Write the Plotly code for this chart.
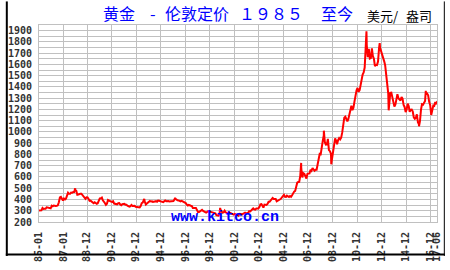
import pandas as pd
import plotly.graph_objects as go

# Monthly London gold price (USD/oz), Jan 1985 .. Jun 2017
price_1985 = [303, 299, 304, 325, 316, 317, 317, 330, 324, 326, 325, 322]
price_1986 = [345, 339, 346, 340, 342, 343, 348, 376, 418, 423, 398, 391]
price_1987 = [408, 401, 408, 438, 460, 450, 450, 461, 460, 466, 466, 487]
price_1988 = [477, 442, 444, 452, 451, 451, 437, 431, 413, 406, 420, 419]
price_1989 = [404, 388, 390, 384, 371, 367, 375, 365, 362, 367, 392, 409]
price_1990 = [410, 417, 393, 374, 369, 352, 362, 395, 389, 381, 381, 378]
price_1991 = [384, 364, 363, 358, 357, 367, 368, 356, 349, 358, 360, 361]
price_1992 = [354, 354, 345, 338, 337, 341, 352, 343, 345, 344, 335, 334]
price_1993 = [329, 330, 330, 342, 367, 372, 392, 379, 355, 364, 373, 383]
price_1994 = [387, 382, 384, 378, 381, 385, 385, 380, 391, 389, 384, 379]
price_1995 = [379, 377, 382, 391, 385, 387, 386, 383, 383, 383, 386, 387]
price_1996 = [400, 405, 396, 393, 392, 385, 383, 387, 383, 381, 378, 369]
price_1997 = [355, 347, 352, 344, 344, 341, 324, 324, 323, 325, 306, 289]
price_1998 = [289, 297, 296, 308, 299, 292, 293, 284, 289, 296, 294, 291]
price_1999 = [287, 288, 286, 282, 277, 262, 256, 257, 265, 311, 293, 283]
price_2000 = [285, 300, 286, 280, 275, 286, 282, 275, 274, 270, 266, 272]
price_2001 = [266, 262, 263, 261, 272, 270, 268, 273, 283, 283, 276, 276]
price_2002 = [282, 296, 294, 302, 314, 321, 313, 310, 319, 317, 319, 333]
price_2003 = [357, 359, 340, 328, 355, 356, 351, 360, 379, 379, 389, 407]
price_2004 = [414, 405, 406, 404, 384, 392, 398, 400, 406, 420, 439, 442]
price_2005 = [424, 423, 434, 429, 422, 431, 424, 438, 456, 470, 476, 510]
price_2006 = [549, 555, 557, 610, 676, 596, 634, 627, 599, 586, 628, 629]
price_2007 = [631, 665, 655, 679, 667, 655, 665, 665, 713, 754, 806, 803]
price_2008 = [889, 922, 968, 909, 888, 890, 939, 839, 829, 806, 760, 816]
price_2009 = [858, 943, 924, 890, 928, 946, 934, 949, 996, 1044, 1127, 1135]
price_2010 = [1118, 1095, 1113, 1149, 1205, 1233, 1193, 1215, 1271, 1343, 1370, 1391]
price_2011 = [1356, 1372, 1424, 1473, 1510, 1529, 1572, 1756, 1772, 1665, 1739, 1652]
price_2012 = [1656, 1742, 1673, 1650, 1585, 1596, 1594, 1626, 1744, 1747, 1721, 1684]
price_2013 = [1671, 1627, 1593, 1487, 1414, 1343, 1286, 1347, 1349, 1316, 1275, 1225]
price_2014 = [1244, 1300, 1336, 1299, 1288, 1279, 1311, 1296, 1239, 1222, 1176, 1200]
price_2015 = [1251, 1227, 1178, 1198, 1199, 1181, 1130, 1117, 1125, 1157, 1086, 1068]
price_2016 = [1097, 1199, 1246, 1242, 1260, 1276, 1337, 1341, 1326, 1267, 1238, 1151]
price_2017 = [1192, 1234, 1231, 1266, 1246, 1275]

# Notable intra-month extremes visible on the chart
spike_dates = ["1987-12-14", "1993-07-30", "1996-02-02", "1999-10-05", "2001-04-02",
               "2006-05-12", "2008-03-17", "2008-10-24", "2011-09-06", "2012-10-04",
               "2013-06-28", "2015-12-17", "2016-07-06"]
spike_values = [500, 406, 415, 326, 256, 725, 1011, 713, 1895, 1790, 1192, 1050, 1366]

# Axis tick labels
tick_dates = ["1985-01-01", "1987-01-01", "1988-12-01", "1990-12-01", "1992-12-01",
              "1994-12-01", "1996-12-01", "1998-12-01", "2000-12-01", "2002-12-01",
              "2004-12-01", "2006-12-01", "2008-12-01", "2010-12-01", "2012-12-01",
              "2014-12-01", "2016-12-01", "2017-06-01"]
tick_labels = ["85-01", "87-01", "88-12", "90-12", "92-12", "94-12", "96-12", "98-12",
               "00-12", "02-12", "04-12", "06-12", "08-12", "10-12", "12-12", "14-12",
               "16-12", "17-06"]

monthly = (price_1985 + price_1986 + price_1987 + price_1988 + price_1989 + price_1990 +
           price_1991 + price_1992 + price_1993 + price_1994 + price_1995 + price_1996 +
           price_1997 + price_1998 + price_1999 + price_2000 + price_2001 + price_2002 +
           price_2003 + price_2004 + price_2005 + price_2006 + price_2007 + price_2008 +
           price_2009 + price_2010 + price_2011 + price_2012 + price_2013 + price_2014 +
           price_2015 + price_2016 + price_2017)
mdates = pd.date_range("1985-01-01", periods=len(monthly), freq="MS") + pd.Timedelta(days=14)
mdates = mdates.insert(0, pd.Timestamp("1985-01-02"))
monthly = [monthly[0]] + monthly

df = pd.concat([
    pd.DataFrame({"d": mdates, "v": monthly}),
    pd.DataFrame({"d": pd.to_datetime(spike_dates), "v": spike_values}),
]).sort_values("d")

W, H = 450, 270
L, R, T, B = 34, 442, 25, 234
GRID = "#c0c0c0"
TICKFONT = dict(family="DejaVu Sans Mono", size=10, color="#333333", weight="bold")

fig = go.Figure(go.Scatter(x=df["d"], y=df["v"], mode="lines",
                           line=dict(color="#ff0000", width=2), hoverinfo="skip"))

fig.update_layout(
    width=W, height=H,
    margin=dict(l=L, r=W - R, t=T, b=H - B, pad=0),
    paper_bgcolor="white", plot_bgcolor="white",
    showlegend=False,
    xaxis=dict(type="date", range=["1985-01-01", "2017-06-05"],
               tickmode="array", tickvals=tick_dates, ticktext=tick_labels,
               tickangle=-90, tickfont=TICKFONT, ticks="", ticklabelstandoff=5,
               showgrid=True, gridcolor=GRID, gridwidth=1,
               showline=True, linecolor=GRID, linewidth=1, mirror=True,
               zeroline=False),
    yaxis=dict(range=[200, 1950], tick0=200, dtick=100, tickfont=TICKFONT,
               ticks="", ticklabelstandoff=4,
               showgrid=True, gridcolor=GRID, gridwidth=1,
               minor=dict(dtick=50, showgrid=True, gridcolor=GRID, gridwidth=1),
               showline=True, linecolor=GRID, linewidth=1, mirror=True,
               zeroline=False),
)

def px(x):
    return (x - L) / (R - L)

def py(y):
    return (B - y) / (B - T)

blue = "#0000ff"
cjk = "Noto Sans CJK SC"
title_parts = [("黄金", 98), ("-", 146), ("伦敦定价", 161), ("１９８５", 237), ("至今", 321)]
for txt, x0 in title_parts:
    fig.add_annotation(text=txt, x=px(x0), y=py(12.5), xref="paper", yref="paper",
                       xanchor="left", yanchor="middle", showarrow=False,
                       font=dict(family=cjk, size=16, color=blue))
for txt, x0 in [("美元/", 368), ("盎司", 408)]:
    fig.add_annotation(text=txt, x=px(x0), y=py(15), xref="paper", yref="paper",
                       xanchor="left", yanchor="middle", showarrow=False,
                       font=dict(family=cjk, size=13, color="black"))

fig.add_annotation(text="www.kitco.cn", x=px(225), y=py(229), xref="paper", yref="paper",
                   xanchor="center", yanchor="middle", showarrow=False,
                   font=dict(family="Liberation Mono", size=15, color=blue, weight="bold"))

# outer black frame (left, right, bottom)
for x0, y0, x1, y1, w in [(1, 0, 1, 270, 2), (449.5, 0, 449.5, 270, 1), (0, 268.5, 450, 268.5, 2)]:
    fig.add_shape(type="line", xref="paper", yref="paper",
                  x0=px(x0), y0=py(y0), x1=px(x1), y1=py(y1),
                  line=dict(color="black", width=w))

fig.write_html("out.html")
